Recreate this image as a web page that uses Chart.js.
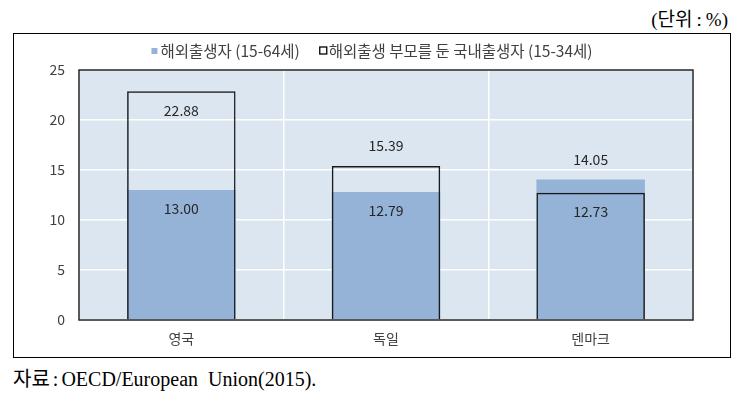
<!DOCTYPE html>
<html>
<head>
<meta charset="utf-8">
<script src="https://cdn.jsdelivr.net/npm/chart.js@4.4.0/dist/chart.umd.min.js"></script>
<style>
  body { margin: 0; background: #fff; width: 743px; height: 402px; position: relative; overflow: hidden; }
  #unit { position: absolute; right: 15px; top: 4px; font: 19px "Liberation Serif", "Noto Sans CJK KR", serif; color: #000; }
  #box { position: absolute; left: 13px; top: 33px; width: 716px; height: 323px; border: 1px solid #000; }
  #src { position: absolute; left: 13px; top: 363px; font: 20px "Liberation Serif", "Noto Sans CJK KR", serif; color: #000; }
</style>
</head>
<body>
<div id="unit">(단위<span style="margin:0 4px">:</span>%)</div>
<div id="box"><canvas id="chart" width="716" height="323"></canvas></div>
<div id="src">자료<span style="margin:0 3px">:</span>OECD/European&nbsp;&nbsp;Union(2015).</div>
<script>
const countries = ['영국', '독일', '덴마크'];
const foreignBorn = [13.00, 12.79, 14.05];
const nativeBornForeignParents = [22.88, 15.39, 12.73];
const seriesNames = ['해외출생자 (15-64세)', '해외출생 부모를 둔 국내출생자 (15-34세)'];
const yTicks = [0, 5, 10, 15, 20, 25];

// label inside or above the bar, as placed in the original
const labelPlace = [['in', 'in', 'out'], ['in', 'out', 'in']];

const FONT = '"Noto Sans CJK KR", "Noto Sans", sans-serif';
const TEXT = '#404040';

const plotFrame = {
    id: 'plotFrame',
    beforeDraw(chart) {
        const a = chart.chartArea, c = chart.ctx;
        c.save();
        c.fillStyle = '#dce6f1';
        c.fillRect(a.left, a.top, a.right - a.left, a.bottom - a.top);
        c.restore();
    },
    afterDatasetsDraw(chart) {
        const a = chart.chartArea, c = chart.ctx;
        c.save();
        c.strokeStyle = '#262626';
        c.lineWidth = 1.5;
        c.strokeRect(a.left, a.top, a.right - a.left, a.bottom - a.top);

        c.font = '14px ' + FONT;
        c.fillStyle = '#262626';
        c.textAlign = 'center';
        c.textBaseline = 'middle';
        chart.data.datasets.forEach((ds, di) => {
            const meta = chart.getDatasetMeta(di);
            meta.data.forEach((bar, i) => {
                const off = labelPlace[di][i] === 'in' ? 19 : -20;
                c.fillText(ds.data[i].toFixed(2), bar.x, bar.y + off);
            });
        });
        c.restore();
    }
};

// legend drawn by hand: two different marker styles, centred in the box
const legendBar = {
    id: 'legendBar',
    afterDraw(chart) {
        const c = chart.ctx;
        c.save();
        c.font = '15.5px ' + FONT;
        c.textBaseline = 'middle';
        const gap = 20, mark = 9;
        const widths = chart.data.datasets.map(ds => mark + c.measureText(ds.label).width);
        const total = widths[0] + widths[1] + gap;
        let x = chart.width / 2 - total / 2;
        const y = 17;
        chart.data.datasets.forEach((ds, i) => {
            if (i === 0) {
                c.fillStyle = '#95b3d7';
                c.fillRect(x, y - 3, 6, 6);
            } else {
                c.fillStyle = '#ffffff';
                c.fillRect(x, y - 4, 7, 7);
                c.strokeStyle = '#000';
                c.lineWidth = 1.3;
                c.strokeRect(x, y - 4, 7, 7);
            }
            c.fillStyle = TEXT;
            c.fillText(ds.label, x + mark, y);
            x += widths[i] + gap;
        });
        c.restore();
    }
};

new Chart(document.getElementById('chart'), {
    type: 'bar',
    data: {
        labels: countries,
        datasets: [
            {
                label: seriesNames[0],
                data: foreignBorn,
                backgroundColor: '#95b3d7',
                borderWidth: 0,
                order: 1
            },
            {
                label: seriesNames[1],
                data: nativeBornForeignParents,
                backgroundColor: 'rgba(0,0,0,0)',
                borderColor: '#1a1a1a',
                borderWidth: 1.5,
                order: 0
            }
        ]
    },
    options: {
        responsive: false,
        animation: false,
        layout: { padding: { left: 0, right: 37, top: 36, bottom: 0 } },
        datasets: { bar: { grouped: false, categoryPercentage: 1, barPercentage: 0.53 } },
        plugins: {
            tooltip: { enabled: false },
            legend: { display: false }
        },
        scales: {
            x: {
                offset: true,
                grid: { color: '#ffffff', lineWidth: 1.5, drawTicks: false },
                border: { display: false },
                ticks: { color: TEXT, font: { size: 14, family: FONT }, padding: 10 },
                afterFit: (s) => { s.height = 37; }
            },
            y: {
                min: 0,
                max: 25,
                afterBuildTicks: (s) => { s.ticks = yTicks.map(v => ({ value: v })); },
                grid: { color: '#ffffff', lineWidth: 1.5, drawTicks: false },
                border: { display: false },
                ticks: { color: TEXT, font: { size: 14, family: FONT }, padding: 14 },
                afterFit: (s) => { s.width = 65; }
            }
        }
    },
    plugins: [plotFrame, legendBar]
});
</script>
</body>
</html>
